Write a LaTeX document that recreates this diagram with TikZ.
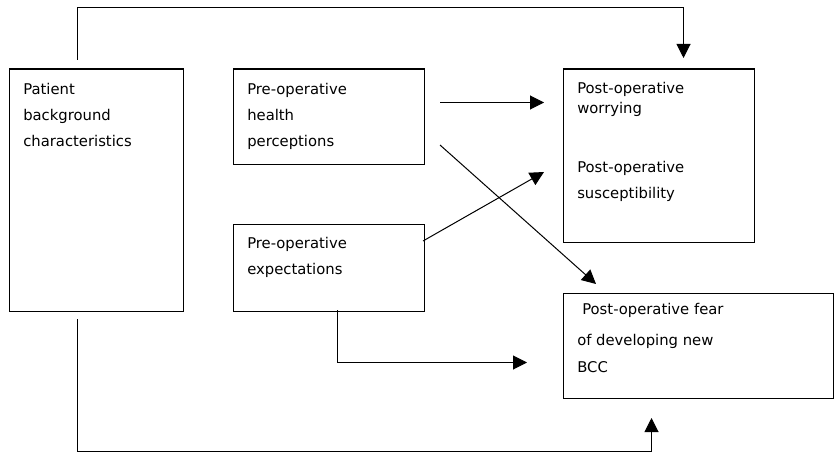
\documentclass[tikz,border=0pt]{standalone}
\usepackage{fontspec}
\setmainfont{DejaVu Sans}
\usetikzlibrary{arrows.meta,calc,positioning}
\tikzset{
  box/.style={draw=black,line width=.9pt,anchor=north west,inner sep=0pt},
  flow/.style={-{Triangle[length=10.5pt,width=10.5pt]},draw=black,line width=.75pt},
  figlabel/.style={font=\fontsize{11.1pt}{19.5pt}\selectfont,anchor=north west,
    align=left,inner sep=0pt}
}
\begin{document}
\begin{tikzpicture}[x=.75pt,y=-.75pt]
  \useasboundingbox (0,0) rectangle (834,453);
  \node[box,minimum width=130.5pt,minimum height=181.5pt] (pat) at (8.5,68.5) {};
  \node[box,minimum width=143.25pt,minimum height=71.25pt] (health) at (232.5,68.5) {};
  \node[box,minimum width=143.25pt,minimum height=65.25pt] (expect) at (232.5,223.5) {};
  \node[box,minimum width=143.25pt,minimum height=129.75pt] (worry) at (562.5,68.5) {};
  \node[box,minimum width=202.5pt,minimum height=78.75pt] (fear) at (562.5,292.5) {};

  \node[figlabel] (patT) at (23,82.5) {Patient\\background\\characteristics};
  \node[figlabel] (healthT) at (247,82.5) {Pre-operative\\health\\perceptions};
  \node[figlabel] (expectT) at (247,236.5) {Pre-operative\\expectations};
  \node[figlabel,font=\fontsize{11.1pt}{15pt}\selectfont] (worryT) at (577,81.5)
    {Post-operative\\worrying};
  \node[figlabel] (suscT) at (577,160.5) {Post-operative\\susceptibility};
  \node[figlabel] (fearT) at (577,302.5)
    {\hspace*{3.75pt}Post-operative fear\\[3.75pt]of developing new\\[.75pt]BCC};

  % free ends of the connectors
  \coordinate (patTop) at (77.5,60);
  \coordinate (worryIn) at (683.5,58);
  \coordinate (healthA) at (440,102.5);
  \coordinate (worryA) at (544,102.5);
  \coordinate (healthB) at (440,145);
  \coordinate (fearA) at (596,284);
  \coordinate (expectA) at (423,241);
  \coordinate (worryB) at (544,172);
  \coordinate (expectB) at (337.5,310);
  \coordinate (fearB) at (527,362.5);
  \coordinate (patBot) at (77.5,319);
  \coordinate (fearIn) at (651.5,418);

  \draw[flow] (patTop) -- ++(0,-52.5) -| (worryIn);
  \draw[flow] (healthA) -- (worryA);
  \draw[flow] (healthB) -- (fearA);
  \draw[flow] (expectA) -- (worryB);
  \draw[flow] (expectB) |- (fearB);
  \draw[flow] (patBot) -- ++(0,132.5) -| (fearIn);
\end{tikzpicture}
\end{document}
